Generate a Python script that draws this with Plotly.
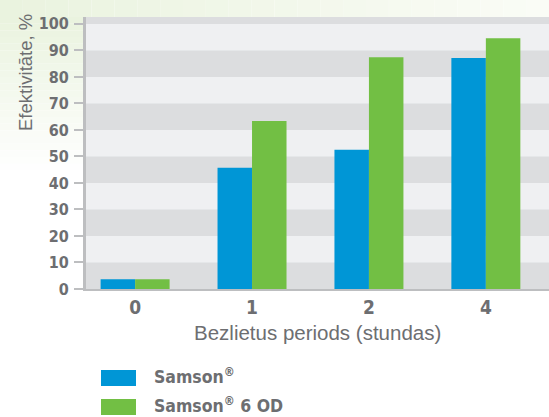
import plotly.graph_objects as go

# ---- data ----
categories = ["0", "1", "2", "4"]
series_names = ["Samson<sup>®</sup>", "Samson<sup>®</sup> 6 OD"]
samson = [3.7, 45.7, 52.5, 87.1]
samson_6od = [3.7, 63.4, 87.4, 94.6]
y_ticks = [0, 10, 20, 30, 40, 50, 60, 70, 80, 90, 100]
y_title = "Efektivitāte, %"
x_title = "Bezlietus periods (stundas)"

BLUE = "#0096D6"
GREEN = "#72BF44"
GRAY_TXT = "#6D6E71"
AXIS = "#BDBEC0"
LIGHT = "#EFF0F2"
DARK = "#DCDDDF"
BOLD_FONT = "DejaVu Sans Condensed, DejaVu Sans, sans-serif"
REG_FONT = "Liberation Sans, Arial, sans-serif"

W, H = 549, 417
ML, MR, MT, MB = 86, 0, 17, 128
PW, PH = W - ML - MR, H - MT - MB
YMAX = 102.6


def px_x(p):
    return (p - ML) / PW


def px_y(p):
    return (H - MB - p) / PH


fig = go.Figure()
fig.add_trace(go.Bar(x=categories, y=samson, name=series_names[0],
                     marker=dict(color=BLUE, line=dict(width=0))))
fig.add_trace(go.Bar(x=categories, y=samson_6od, name=series_names[1],
                     marker=dict(color=GREEN, line=dict(width=0))))

shapes = []


def lerp(c1, c2, t):
    return "rgb(%d,%d,%d)" % tuple(round(a + (b - a) * t) for a, b in zip(c1, c2))


g0 = (234, 243, 223)
g1 = (250, 252, 246)
white = (255, 255, 255)
# decorative background tint (top strip, left strip)
N = 24
for i in range(N):
    x0 = px_x(W * i / N)
    x1 = px_x(W * (i + 1) / N)
    shapes.append(dict(type="rect", xref="paper", yref="paper", x0=x0, x1=x1,
                       y0=1, y1=px_y(0), fillcolor=lerp(g0, g1, i / (N - 1)),
                       line=dict(width=0), layer="below"))
for i in range(N):
    y0p = MT + 160 * i / N
    y1p = MT + 160 * (i + 1) / N
    shapes.append(dict(type="rect", xref="paper", yref="paper", x0=px_x(0), x1=0,
                       y0=px_y(y1p), y1=px_y(y0p), fillcolor=lerp(g0, white, i / (N - 1)),
                       line=dict(width=0), layer="below"))

# alternating bands
for k in range(0, 110, 20):
    shapes.append(dict(type="rect", xref="paper", yref="y", x0=0, x1=1,
                       y0=k, y1=min(k + 10, YMAX), fillcolor=DARK,
                       line=dict(width=0), layer="below"))

# legend swatches
leg_y = [378, 407]
leg_cols = [BLUE, GREEN]
annotations = []
for name, col, cy in zip(series_names, leg_cols, leg_y):
    shapes.append(dict(type="rect", xref="paper", yref="paper",
                       x0=px_x(101), x1=px_x(136), y0=px_y(cy + 8), y1=px_y(cy - 8),
                       fillcolor=col, line=dict(width=0)))
    annotations.append(dict(xref="paper", yref="paper", x=px_x(152), y=px_y(cy - 2),
                            xanchor="left", yanchor="middle", showarrow=False,
                            text=name,
                            font=dict(family=BOLD_FONT, size=17.5, color=GRAY_TXT,
                                      weight="bold")))

annotations.append(dict(xref="paper", yref="paper", x=px_x(26), y=px_y(72),
                        textangle=-90, showarrow=False, text=y_title,
                        xanchor="center", yanchor="middle",
                        font=dict(family=REG_FONT, size=18.5, color=GRAY_TXT)))
annotations.append(dict(xref="paper", yref="paper", x=px_x(317), y=px_y(332),
                        showarrow=False, text=x_title,
                        xanchor="center", yanchor="middle",
                        font=dict(family=REG_FONT, size=20.5, color=GRAY_TXT)))

fig.update_layout(
    width=W, height=H,
    margin=dict(l=ML, r=MR, t=MT, b=MB, pad=0),
    paper_bgcolor="white", plot_bgcolor=LIGHT,
    barmode="group", bargap=0.41, bargroupgap=0,
    showlegend=False,
    shapes=shapes, annotations=annotations,
    xaxis=dict(type="category", categoryorder="array", categoryarray=categories,
               range=[-0.42, 3.54], showline=True, linewidth=2, linecolor=AXIS,
               ticks="", showgrid=False, zeroline=False,
               tickfont=dict(family=BOLD_FONT, size=19, color=GRAY_TXT, weight="bold"),
               ticklabelstandoff=0, fixedrange=True),
    yaxis=dict(range=[0, YMAX], tickvals=y_ticks, showline=True, linewidth=3,
               linecolor=AXIS, ticks="outside", ticklen=9, tickwidth=2, tickcolor=AXIS,
               showgrid=False, zeroline=False,
               tickfont=dict(family=BOLD_FONT, size=16, color=GRAY_TXT, weight="bold"),
               ticklabelstandoff=2, fixedrange=True),
)

fig.write_html("out.html", config={"displayModeBar": False})

# remove default browser body margin; prefer the condensed face for the bold labels
css = ("<style>html,body{margin:0;padding:0;overflow:hidden}"
       "text[style*='DejaVu Sans Condensed']{font-stretch:condensed}</style>")
with open("out.html", "r", encoding="utf-8") as f:
    html = f.read()
html = html.replace("<head>", "<head>" + css, 1)
with open("out.html", "w", encoding="utf-8") as f:
    f.write(html)
